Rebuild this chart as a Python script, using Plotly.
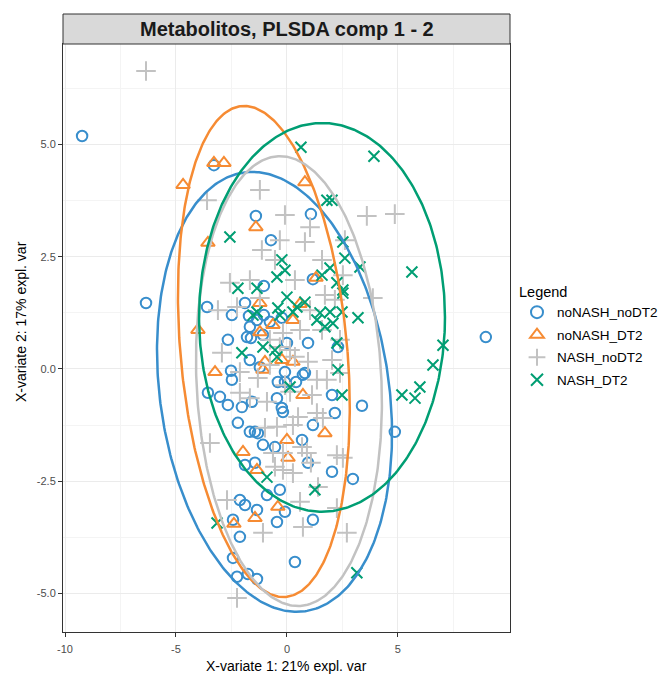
import numpy as np
import plotly.graph_objects as go

groups = ["noNASH_noDT2", "noNASH_DT2", "NASH_noDT2", "NASH_DT2"]
colors = ["#388ECC", "#F68B33", "#C2C2C2", "#009E73"]

nn_x = [-9.23, -6.35, 8.96, -3.29, -1.40, 1.08, -0.72, 1.17, -1.04, -3.60, -1.89, -2.48, -1.71, -1.04, -0.77,
        -0.23, -1.67, -1.80, -1.62, -2.66, -1.08, 0.00, 0.95, 2.30, -1.67, -2.52, -1.22, -0.09, 0.81, -1.35,
        -2.48, -0.41, -0.09, 0.72, -3.02, -2.66, -2.03, -1.58, -0.45, -0.23, -0.18, 2.03, 2.16, -2.21, -1.67,
        -1.44, -1.31, -1.08, -0.54, 0.68, 1.17, -1.89, -1.44, 0.95, 2.03, -0.90, -0.32, -2.12, -1.89, -1.35,
        -0.09, -0.45, 1.17, -2.43, -2.12, -2.43, 0.36, -2.25, -1.76, -1.35, 4.86, 3.38, 2.97, -3.56, 0.41]
nn_y = [5.19, 1.47, 0.71, 4.54, 3.41, 3.45, 2.87, 2.00, 1.85, 1.38, 1.47, 1.20, 1.18, 1.20, 1.05,
        1.14, 0.94, 0.71, 0.69, 0.65, 0.76, 0.58, 0.58, 0.49, 0.20, -0.04, 0.04, -0.07, -0.09, 1.09,
        -0.24, -0.29, -0.29, -0.13, -0.62, -0.80, -0.85, -0.73, -0.65, -0.87, -0.96, -0.58, -0.98, -1.20, -1.40,
        -1.40, -1.43, -1.69, -1.74, -1.58, -1.25, -2.14, -2.09, -2.09, -2.29, -2.81, -2.69, -2.92, -3.03, -3.14,
        -3.18, -3.41, -3.36, -3.36, -3.74, -4.21, -4.30, -4.63, -4.57, -4.68, -1.40, -0.82, -2.45, -0.53, -0.29]

nd_x = [-3.29, -2.84, -4.68, 0.81, -1.40, -3.56, 1.31, -1.22, 0.59, -0.63, -1.22, 0.27, -4.01, 0.27,
        -0.23, -0.99, -3.24, -1.08, 0.72, 0.00, 1.71, -1.98, 0.05, -1.35, -0.41, -1.44, -2.39]
nd_y = [4.59, 4.59, 4.10, 4.16, 3.16, 2.81, 2.03, 1.47, 1.45, 0.98, 0.82, 1.09, 0.87, 0.16,
        0.20, 0.16, -0.07, -0.02, -0.58, -1.58, -1.43, -1.85, -1.98, -2.25, -3.07, -3.32, -3.45]

n_x = [-6.35, -3.60, -1.22, 1.04, 0.81, -0.32, 1.58, -2.57, -1.67, -3.11, -2.25, -1.22, 1.71, 0.59, -0.18,
       1.58, 2.03, 0.95, -0.77, -0.32, -2.93, -2.12, 2.39, 3.60, 4.86, 3.87, 2.52, -2.12, -1.67, -0.90,
       -0.99, -0.45, 0.27, 0.50, 1.35, 1.62, 1.80, 1.35, -3.47, -0.63, -0.18, 0.68, 0.90, -0.54, -0.18,
       0.27, 2.25, 1.40, 0.59, 2.25, 0.72, -1.08, -2.70, -2.25, 2.52, 2.70, 1.08, 0.14, 0.36, -0.09,
       0.14, 1.13, -0.77, -1.31, 1.04, 0.36, -0.09, 2.16, 2.61, 2.39, -1.13, -0.54]
n_y = [6.64, 3.76, 3.99, 3.16, 2.83, 2.87, 2.43, 1.92, 1.98, 1.31, 1.38, 1.58, 1.65, 0.87, 0.80,
       0.87, 0.20, 0.16, 0.65, 0.49, 0.36, -0.07, -0.09, 3.41, 3.45, 1.58, 2.09, -0.53, -0.65, -0.73,
       -1.31, -1.29, -1.25, -1.07, -0.98, -1.09, -0.24, -0.24, -1.65, -1.87, -1.87, -1.74, -1.87, -2.18, -2.25,
       -2.32, -1.92, -2.63, -2.96, -3.10, -3.52, -3.65, -2.92, -5.10, -1.98, -3.65, -2.09, 0.42, 0.27, -0.36,
       -0.51, -0.58, 0.09, -0.20, 1.31, 1.98, 3.43, 1.54, 2.87, 0.65, 2.65, 2.43]

d_x = [0.63, 3.92, 1.80, 2.03, -2.57, -0.23, -0.09, 1.94, 1.58, -2.21, -1.35, -0.45, 0.00, 0.81, 2.52,
       2.25, 1.94, 1.49, 1.35, 1.71, 2.07, 0.45, 0.27, -0.41, -0.32, -1.53, -1.35, 2.25, -2.03, -1.08,
       -0.54, -0.45, 2.52, 2.30, 2.61, 3.29, 5.63, 2.52, 2.48, 3.20, 7.03, 6.58, 5.99, 5.18, 5.77,
       2.48, 3.15, -3.15, 1.26, -0.90, 0.14]
d_y = [4.94, 4.74, 3.76, 3.76, 2.94, 2.43, 2.20, 2.25, 2.09, 1.80, 1.80, 2.05, 1.60, 1.49, 1.69,
       1.92, 1.27, 1.25, 1.09, 0.94, 1.02, 1.38, 1.27, 1.36, 1.20, 1.20, 1.27, 0.58, 0.36, 0.49,
       0.42, 0.27, 2.83, -0.02, 2.47, 2.27, 2.16, 1.76, 1.27, 1.14, 0.53, 0.09, -0.40, -0.58, -0.65,
       -0.58, -4.54, -3.43, -2.69, -2.41, -0.40]

# ellipse parameters per group (centre, radii, shear of the vertical axis)
ell_cx = [-0.56, -1.04, 0.09, 1.58]
ell_cy = [-0.51, 0.39, -0.27, 1.15]
ell_rx = [5.20, 3.77, 4.17, 5.54]
ell_ry = [4.90, 5.47, 5.01, 4.33]
ell_sh = [-1.00, -0.88, -0.40, 0.00]

xs = [nn_x, nd_x, n_x, d_x]
ys = [nn_y, nd_y, n_y, d_y]
symbols = ["circle-open", "triangle-up-open", "cross-thin-open", "x-thin-open"]
msizes = [10.5, 12, 14, 11]

fig = go.Figure()
for g, c, x, y, s, ms in zip(groups, colors, xs, ys, symbols, msizes):
    fig.add_trace(go.Scatter(
        x=x, y=y, mode="markers", name=g, legendgroup=g,
        marker=dict(symbol=s, size=ms, color=c, line=dict(color=c, width=2)),
    ))

t = np.linspace(0, 2 * np.pi, 400)
for i, c in enumerate(colors):
    ex = ell_cx[i] + ell_rx[i] * np.cos(t) + ell_sh[i] * np.sin(t)
    ey = ell_cy[i] + ell_ry[i] * np.sin(t)
    fig.add_trace(go.Scatter(x=ex, y=ey, mode="lines", line=dict(color=c, width=2.5),
                             showlegend=False, hoverinfo="skip"))

font_family = "Liberation Sans, Arial, sans-serif"
fig.update_layout(
    width=666, height=674,
    margin=dict(l=63, r=156, t=44, b=42, autoexpand=False),
    paper_bgcolor="white", plot_bgcolor="white",
    font=dict(family=font_family, color="black"),
    showlegend=True,
    legend=dict(
        title=dict(text="Legend", font=dict(size=14.5, color="black")),
        font=dict(size=13.5, color="black"),
        xref="container", yref="container",
        x=517 / 666, xanchor="left", y=1 - 278 / 674, yanchor="top",
        bgcolor="rgba(0,0,0,0)", tracegroupgap=2, itemsizing="constant", itemwidth=30,
    ),
    xaxis=dict(
        range=[-10.09, 10.05], tickvals=[-10, -5, 0, 5], ticktext=["-10", "-5", "0", "5"],
        showgrid=True, gridcolor="#EBEBEB", gridwidth=1,
        minor=dict(tickvals=[-7.5, -2.5, 2.5, 7.5], showgrid=True, gridcolor="#F4F4F4", gridwidth=1, ticks=""),
        zeroline=False, showline=True, mirror=True, linecolor="#333333", linewidth=1,
        ticks="outside", ticklen=4, tickcolor="#333333", ticklabelstandoff=3,
        tickfont=dict(size=11, color="#4D4D4D"), automargin=False,
    ),
    yaxis=dict(
        range=[-5.86, 7.24], tickvals=[-5, -2.5, 0, 2.5, 5], ticktext=["-5.0", "-2.5", "0.0", "2.5", "5.0"],
        showgrid=True, gridcolor="#EBEBEB", gridwidth=1,
        minor=dict(tickvals=[-3.75, -1.25, 1.25, 3.75, 6.25], showgrid=True, gridcolor="#F4F4F4", gridwidth=1, ticks=""),
        zeroline=False, showline=True, mirror=True, linecolor="#333333", linewidth=1,
        ticks="outside", ticklen=4, tickcolor="#333333",
        tickfont=dict(size=11, color="#4D4D4D"), automargin=False,
    ),
    shapes=[dict(type="rect", xref="paper", yref="paper", x0=0, x1=1, y0=1.0, y1=1 + 30 / 588,
                 fillcolor="#D9D9D9", line=dict(color="#333333", width=1), layer="above")],
    annotations=[
        dict(text="<b>Metabolitos, PLSDA comp 1 - 2</b>", xref="paper", yref="paper", x=0.5,
             y=1 + 15 / 588, xanchor="center", yanchor="middle", showarrow=False,
             font=dict(size=20, color="#1A1A1A")),
        dict(text="X-variate 1: 21% expl. var", xref="paper", yref="paper", x=0.5, y=-34 / 588,
             xanchor="center", yanchor="middle", showarrow=False, font=dict(size=14, color="black")),
        dict(text="X-variate 2: 17% expl. var", xref="paper", yref="paper", x=-42 / 447,
             y=(632 - 322) / 588, xanchor="center", yanchor="middle", textangle=-90,
             showarrow=False, font=dict(size=14, color="black")),
    ],
)

fig.write_html("out.html")
